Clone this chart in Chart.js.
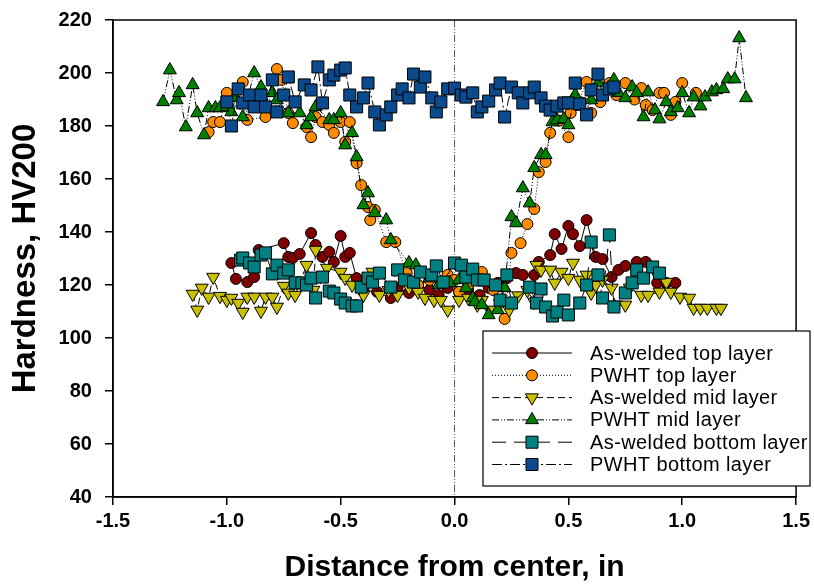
<!DOCTYPE html>
<html>
<head>
<meta charset="utf-8">
<script src="https://cdn.jsdelivr.net/npm/chart.js@4.4.0/dist/chart.umd.min.js"></script>
<style>
  html, body { margin: 0; padding: 0; background: #fff; }
</style>
</head>
<body>
<canvas id="myChart" width="814" height="586"></canvas>
<script>
// hardness traverses, [distance from center (in), hardness HV200]
const awTop = [[-0.98,128.3],[-0.96,122.3],[-0.91,121.1],[-0.88,123.0],[-0.86,133.2],[-0.75,135.8],[-0.73,130.6],[-0.71,130.2],[-0.68,131.7],[-0.63,139.6],[-0.61,135.1],[-0.58,130.6],[-0.55,132.5],[-0.53,128.7],[-0.50,138.5],[-0.48,130.6],[-0.46,132.1],[-0.43,122.6],[-0.40,118.1],[-0.34,117.4],[-0.28,115.1],[-0.25,118.9],[-0.20,117.0],[-0.16,120.0],[-0.11,118.1],[-0.07,116.2],[-0.03,118.9],[0.02,117.4],[0.06,118.1],[0.11,116.2],[0.15,118.9],[0.19,120.8],[0.23,122.6],[0.27,124.5],[0.30,123.8],[0.35,123.8],[0.37,128.7],[0.42,131.3],[0.44,139.2],[0.47,133.6],[0.50,142.3],[0.52,139.2],[0.55,134.7],[0.58,144.5],[0.62,130.6],[0.65,129.8],[0.69,123.0],[0.72,125.7],[0.75,127.2],[0.80,128.7],[0.84,128.7],[0.89,120.8],[0.93,120.8],[0.97,120.8]];
const pwhtTop = [[-1.08,177.7],[-1.06,181.5],[-1.03,181.5],[-1.00,192.5],[-0.93,196.6],[-0.91,182.3],[-0.83,183.4],[-0.78,201.5],[-0.76,197.4],[-0.73,184.9],[-0.71,181.1],[-0.65,179.6],[-0.63,175.8],[-0.61,183.4],[-0.58,181.5],[-0.55,180.4],[-0.53,177.4],[-0.50,181.5],[-0.48,174.0],[-0.46,181.5],[-0.43,166.0],[-0.41,157.7],[-0.38,149.4],[-0.37,144.5],[-0.35,148.3],[-0.30,136.2],[-0.26,136.2],[-0.21,124.5],[-0.16,120.0],[-0.11,121.9],[-0.06,120.8],[-0.03,123.8],[0.00,121.9],[0.02,117.4],[0.06,120.0],[0.12,124.9],[0.17,118.1],[0.22,107.2],[0.25,132.1],[0.29,135.8],[0.32,143.0],[0.35,148.7],[0.37,162.6],[0.40,166.4],[0.42,177.4],[0.46,182.0],[0.50,175.8],[0.51,184.9],[0.54,187.9],[0.58,196.6],[0.60,184.9],[0.64,189.0],[0.68,196.2],[0.71,191.7],[0.75,196.2],[0.79,190.0],[0.82,194.3],[0.84,187.9],[0.87,186.0],[0.90,192.5],[0.92,192.5],[0.95,184.2],[0.97,189.1],[1.00,196.2],[1.06,192.5]];
const awMid = [[-1.15,116.6],[-1.13,110.6],[-1.11,118.9],[-1.08,115.5],[-1.06,123.0],[-1.03,115.8],[-1.00,114.3],[-0.98,115.1],[-0.95,113.2],[-0.93,109.8],[-0.91,115.5],[-0.88,115.5],[-0.85,110.2],[-0.83,115.5],[-0.80,115.5],[-0.78,111.7],[-0.75,119.6],[-0.73,117.0],[-0.70,116.2],[-0.65,127.5],[-0.62,118.1],[-0.61,133.2],[-0.56,126.4],[-0.50,124.9],[-0.48,122.6],[-0.45,120.0],[-0.40,116.2],[-0.36,124.9],[-0.33,116.2],[-0.29,118.0],[-0.25,116.2],[-0.20,119.0],[-0.16,117.4],[-0.13,115.1],[-0.09,114.3],[-0.06,114.3],[-0.03,110.6],[0.02,114.3],[0.06,115.1],[0.10,112.5],[0.12,114.3],[0.16,110.6],[0.20,113.0],[0.24,110.6],[0.28,116.0],[0.32,118.0],[0.35,113.6],[0.36,127.5],[0.38,125.7],[0.42,125.7],[0.44,120.8],[0.47,124.9],[0.50,122.6],[0.52,128.3],[0.55,121.9],[0.58,123.8],[0.60,117.0],[0.62,120.0],[0.65,121.9],[0.69,118.9],[0.71,112.5],[0.75,112.5],[0.77,118.9],[0.82,116.2],[0.85,116.2],[0.90,117.4],[0.93,121.1],[0.95,117.4],[0.99,115.5],[1.03,115.1],[1.05,111.3],[1.08,111.3],[1.11,111.3],[1.15,111.3],[1.17,111.3]];
const pwhtMid = [[-1.28,189.1],[-1.25,201.1],[-1.22,189.8],[-1.21,192.5],[-1.18,179.6],[-1.15,195.5],[-1.13,184.9],[-1.10,176.6],[-1.08,186.8],[-1.05,186.8],[-1.03,186.8],[-1.00,187.2],[-0.98,185.3],[-0.96,190.6],[-0.93,183.4],[-0.88,200.0],[-0.85,194.7],[-0.80,192.5],[-0.78,189.8],[-0.73,184.9],[-0.68,184.9],[-0.65,180.4],[-0.63,183.4],[-0.61,187.2],[-0.55,182.3],[-0.53,182.3],[-0.50,184.9],[-0.48,172.8],[-0.45,177.4],[-0.43,168.3],[-0.40,150.2],[-0.38,154.7],[-0.35,147.2],[-0.30,144.5],[-0.28,137.0],[-0.20,128.3],[-0.17,127.5],[-0.11,122.6],[-0.07,120.0],[-0.02,120.8],[0.02,121.9],[0.05,118.9],[0.08,115.1],[0.09,113.6],[0.12,112.5],[0.15,108.7],[0.19,110.6],[0.22,118.9],[0.25,145.7],[0.27,143.4],[0.30,156.6],[0.33,150.9],[0.35,164.2],[0.38,169.1],[0.40,169.1],[0.43,181.5],[0.45,182.3],[0.48,182.6],[0.50,180.4],[0.53,191.7],[0.60,189.8],[0.63,196.2],[0.70,197.4],[0.72,192.5],[0.75,190.6],[0.78,194.7],[0.80,192.5],[0.83,183.4],[0.85,192.8],[0.88,186.0],[0.90,182.6],[0.93,189.1],[0.95,185.3],[0.98,186.8],[1.00,192.5],[1.03,184.9],[1.05,190.9],[1.08,187.5],[1.10,190.9],[1.13,192.8],[1.15,193.6],[1.18,194.0],[1.20,197.7],[1.23,197.7],[1.25,213.2],[1.28,190.6]];
const awBot = [[-0.94,129.4],[-0.93,130.2],[-0.90,128.3],[-0.88,126.8],[-0.85,131.3],[-0.83,132.1],[-0.80,124.2],[-0.78,127.5],[-0.75,124.5],[-0.73,125.7],[-0.70,120.8],[-0.67,120.8],[-0.65,120.0],[-0.63,122.6],[-0.61,115.1],[-0.58,123.0],[-0.55,117.7],[-0.53,117.0],[-0.50,114.7],[-0.48,113.2],[-0.45,112.1],[-0.43,112.1],[-0.41,119.2],[-0.38,122.6],[-0.36,121.1],[-0.33,124.5],[-0.28,119.2],[-0.25,125.7],[-0.22,121.9],[-0.18,121.1],[-0.15,124.9],[-0.10,123.8],[-0.08,127.2],[-0.05,121.1],[0.00,128.3],[0.03,127.5],[0.05,123.0],[0.08,126.0],[0.10,121.9],[0.13,121.9],[0.18,120.0],[0.20,114.3],[0.23,123.8],[0.25,113.2],[0.33,119.2],[0.36,113.2],[0.38,118.5],[0.40,111.7],[0.43,108.3],[0.45,109.8],[0.48,114.3],[0.50,108.7],[0.55,113.2],[0.58,120.0],[0.60,136.2],[0.63,123.8],[0.65,115.1],[0.68,138.9],[0.70,111.7],[0.75,117.0],[0.78,120.8],[0.80,125.7],[0.83,122.6],[0.87,126.8],[0.90,124.5]];
const pwhtBot = [[-1.00,189.1],[-0.98,180.0],[-0.95,194.0],[-0.93,188.7],[-0.90,191.7],[-0.88,187.2],[-0.85,191.7],[-0.83,187.2],[-0.80,197.4],[-0.78,185.3],[-0.75,191.7],[-0.73,198.5],[-0.70,189.1],[-0.66,195.5],[-0.63,193.6],[-0.60,202.3],[-0.58,188.7],[-0.55,197.4],[-0.53,199.2],[-0.50,201.1],[-0.48,201.9],[-0.46,191.7],[-0.43,187.2],[-0.40,190.6],[-0.38,196.2],[-0.35,185.3],[-0.33,180.4],[-0.30,184.2],[-0.28,187.2],[-0.25,191.7],[-0.23,194.0],[-0.20,190.6],[-0.18,199.6],[-0.15,194.7],[-0.13,198.5],[-0.10,190.6],[-0.08,185.3],[-0.06,189.1],[-0.03,194.0],[0.00,194.3],[0.03,191.7],[0.05,190.9],[0.08,192.5],[0.10,185.3],[0.12,187.2],[0.15,189.4],[0.18,193.6],[0.20,196.2],[0.22,183.4],[0.25,194.7],[0.28,192.5],[0.30,188.7],[0.33,192.5],[0.35,194.7],[0.38,190.6],[0.40,187.5],[0.42,186.0],[0.45,187.5],[0.48,188.7],[0.50,188.7],[0.53,196.2],[0.55,188.3],[0.58,184.2],[0.60,193.6],[0.63,199.6],[0.65,191.7],[0.68,194.0],[0.70,194.7]];

const seriesNames = ["As-welded top layer","PWHT top layer","As-welded mid layer","PWHT mid layer","As-welded bottom layer","PWHT bottom layer"];
const seriesData = [awTop, pwhtTop, awMid, pwhtMid, awBot, pwhtBot];

const xTicks = [-1.5, -1.0, -0.5, 0.0, 0.5, 1.0, 1.5];
const yTicks = [40, 60, 80, 100, 120, 140, 160, 180, 200, 220];

// marker / line looks
const styles = [
  {color:'#800000', shape:'circle',   r:5.5, rot:0,   dash:[]},
  {color:'#ff8c00', shape:'circle',   r:5.5, rot:0,   dash:[1,2]},
  {color:'#c8c000', shape:'triangle', r:7.5, rot:180, dash:[7,4]},
  {color:'#008000', shape:'triangle', r:7.5, rot:0,   dash:[7,2,1,2,1,2]},
  {color:'#008080', shape:'rect',     r:8.5, rot:0,   dash:[14,8]},
  {color:'#0b4a8c', shape:'rect',     r:8.5, rot:0,   dash:[10,3,2,3]}
];

const fontFam = "'Liberation Sans', Arial, sans-serif";

const datasets = seriesData.map((d, i) => ({
  label: seriesNames[i],
  data: d.map(p => ({x: p[0], y: p[1]})),
  showLine: true,
  borderColor: '#000',
  borderWidth: 1,
  borderDash: styles[i].dash,
  backgroundColor: styles[i].color,
  pointBackgroundColor: styles[i].color,
  pointBorderColor: '#000',
  pointBorderWidth: 1,
  pointStyle: styles[i].shape,
  pointRadius: styles[i].r,
  pointRotation: styles[i].rot,
  order: seriesData.length - i
}));

// marker for the legend
function drawMarker(ctx, st, x, y) {
  ctx.save();
  ctx.fillStyle = st.color;
  ctx.strokeStyle = '#000';
  ctx.lineWidth = 1;
  ctx.setLineDash([]);
  ctx.beginPath();
  if (st.shape === 'circle') {
    ctx.arc(x, y, st.r, 0, Math.PI * 2);
  } else if (st.shape === 'rect') {
    const s = st.r * Math.SQRT1_2;
    ctx.rect(x - s, y - s, 2 * s, 2 * s);
  } else {
    const sgn = st.rot === 180 ? -1 : 1;
    const r = st.r;
    ctx.moveTo(x, y - sgn * r);
    ctx.lineTo(x + r * 0.866, y + sgn * r * 0.5);
    ctx.lineTo(x - r * 0.866, y + sgn * r * 0.5);
    ctx.closePath();
  }
  ctx.fill();
  ctx.stroke();
  ctx.restore();
}

const extras = {
  id: 'extras',
  beforeDatasetsDraw(chart) {
    const {ctx, chartArea, scales} = chart;
    const x0 = scales.x.getPixelForValue(0);
    ctx.save();
    ctx.strokeStyle = '#555';
    ctx.lineWidth = 1;
    ctx.setLineDash([7, 2, 1, 2, 1, 2]);
    ctx.beginPath();
    ctx.moveTo(x0, chartArea.top);
    ctx.lineTo(x0, chartArea.bottom);
    ctx.stroke();
    ctx.restore();
  },
  afterDraw(chart) {
    const {ctx, chartArea} = chart;
    ctx.save();
    ctx.strokeStyle = '#000';
    ctx.lineWidth = 1.5;
    ctx.strokeRect(chartArea.left, chartArea.top, chartArea.right - chartArea.left, chartArea.bottom - chartArea.top);

    // legend box
    const lx = 483, ly = 331, lw = 327, lh = 155;
    ctx.fillStyle = '#fff';
    ctx.fillRect(lx, ly, lw, lh);
    ctx.lineWidth = 1.2;
    ctx.strokeRect(lx, ly, lw, lh);
    ctx.font = "20px " + fontFam;
    if ('letterSpacing' in ctx) ctx.letterSpacing = '0.4px';
    ctx.textBaseline = 'middle';
    seriesNames.forEach((name, i) => {
      const y = ly + 22 + i * 22.3;
      ctx.strokeStyle = '#000';
      ctx.lineWidth = 1;
      ctx.setLineDash(styles[i].dash);
      ctx.beginPath();
      ctx.moveTo(lx + 9, y);
      ctx.lineTo(lx + 89, y);
      ctx.stroke();
      drawMarker(ctx, styles[i], lx + 49, y);
      ctx.fillStyle = '#000';
      ctx.fillText(name, lx + 107, y + 1);
    });
    ctx.restore();
  }
};

const config = {
  type: 'scatter',
  data: { datasets: datasets },
  options: {
    responsive: false,
    animation: false,
    layout: { padding: { left: 0, right: 17, top: 20, bottom: 0 } },
    plugins: { legend: { display: false }, tooltip: { enabled: false } },
    scales: {
      x: {
        type: 'linear', min: -1.5, max: 1.5,
        afterBuildTicks: s => { s.ticks = xTicks.map(v => ({value: v})); },
        ticks: { callback: v => v.toFixed(1), color: '#000', padding: 4,
                 font: {family: fontFam, size: 20, weight: 'bold'} },
        grid: { drawOnChartArea: false, color: '#000', tickLength: 8, lineWidth: 1.5 },
        border: { color: '#000', width: 1.5 },
        title: { display: true, text: 'Distance from center, in', color: '#000',
                 font: {family: fontFam, size: 30, weight: 'bold'}, padding: {top: 13, bottom: 0} }
      },
      y: {
        type: 'linear', min: 40, max: 220,
        afterBuildTicks: s => { s.ticks = yTicks.map(v => ({value: v})); },
        afterFit: s => { s.paddingTop = 0; s.paddingBottom = 0; },
        ticks: { color: '#000', padding: 13,
                 font: {family: fontFam, size: 20, weight: 'bold'} },
        grid: { drawOnChartArea: false, color: '#000', tickLength: 8, lineWidth: 1.5 },
        border: { color: '#000', width: 1.5 },
        title: { display: true, text: 'Hardness, HV200', color: '#000',
                 font: {family: fontFam, size: 33, weight: 'bold'}, padding: {top: 6, bottom: 0} }
      }
    }
  },
  plugins: [extras]
};

let myChart = new Chart(document.getElementById('myChart'), config);
</script>
</body>
</html>
